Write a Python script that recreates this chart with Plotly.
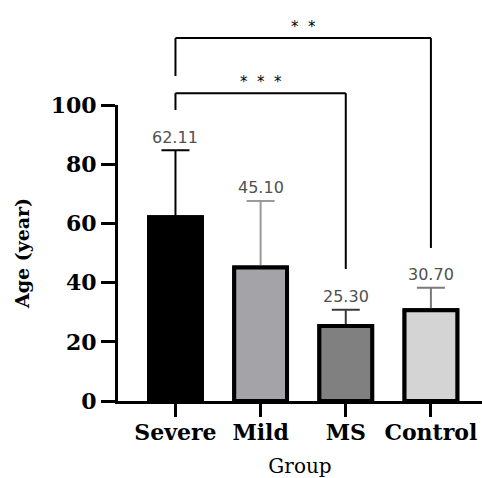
import plotly.graph_objects as go

groups = ["Severe", "Mild", "MS", "Control"]
means = [62.11, 45.10, 25.30, 30.70]
errors = [22.6, 22.5, 5.5, 7.6]
bar_colors = ["#000000", "#a3a3a8", "#808080", "#d4d4d4"]
err_colors = ["#000000", "#9a9a9a", "#3a3a3a", "#7a7a7a"]
y_ticks = [0, 20, 40, 60, 80, 100]

# significance brackets: (from group, to group, bar height, left drop, right drop, label)
brackets = [
    ("Severe", "MS", 104.0, 98.3, 44.6, "*  *  *"),
    ("Severe", "Control", 122.6, 109.8, 51.7, "*  *"),
]

Y_MAX = 100.0

fig = go.Figure()
# bars with upper error bars
for g, m, e, bc, ec in zip(groups, means, errors, bar_colors, err_colors):
    fig.add_trace(go.Bar(
        x=[g], y=[m], width=0.62,
        marker=dict(color=bc, line=dict(color="#000000", width=4)),
        error_y=dict(type="data", array=[e], arrayminus=[0], symmetric=False,
                     color=ec, thickness=2, width=14),
        showlegend=False, hoverinfo="skip",
    ))
# same bars again on top, hiding the lower error caps
for g, m, bc in zip(groups, means, bar_colors):
    fig.add_trace(go.Bar(
        x=[g], y=[m], width=0.62,
        marker=dict(color=bc, line=dict(color="#000000", width=4)),
        showlegend=False,
    ))

for g, m, e in zip(groups, means, errors):
    fig.add_annotation(x=g, y=m + e, text=f"{m:.2f}", showarrow=False,
                       yshift=13, font=dict(family="DejaVu Sans", size=16, color="#505050"))

for a, b, h, dl, dr, lab in brackets:
    yp = lambda v: v / Y_MAX
    line = dict(color="#000000", width=2)
    fig.add_shape(type="line", xref="x", yref="paper", x0=a, x1=b, y0=yp(h), y1=yp(h), line=line)
    fig.add_shape(type="line", xref="x", yref="paper", x0=a, x1=a, y0=yp(h), y1=yp(dl), line=line)
    fig.add_shape(type="line", xref="x", yref="paper", x0=b, x1=b, y0=yp(h), y1=yp(dr), line=line)
    ia, ib = groups.index(a), groups.index(b)
    fig.add_annotation(x=(ia + ib) / 2, xref="x", y=yp(h), yref="paper", yshift=22,
                       text=lab, showarrow=False,
                       font=dict(family="DejaVu Sans", size=15, color="#000000"))

fig.update_layout(
    width=482, height=478,
    margin=dict(l=118, r=0, t=105, b=77),
    plot_bgcolor="white", paper_bgcolor="white",
    barmode="overlay",
    xaxis=dict(
        type="category", range=[-0.675, 3.6],
        showline=True, linecolor="#000000", linewidth=3,
        ticks="outside", ticklen=13, tickwidth=3, tickcolor="#000000",
        ticklabelstandoff=-3,
        tickfont=dict(family="DejaVu Serif", size=22, color="#000000", weight="bold"),
        title=dict(text="Group", font=dict(family="DejaVu Serif", size=20, color="#000000"), standoff=16),
        showgrid=False, zeroline=False,
    ),
    yaxis=dict(
        range=[0, Y_MAX], tickvals=y_ticks,
        showline=True, linecolor="#000000", linewidth=3,
        ticks="outside", ticklen=14, tickwidth=3, tickcolor="#000000",
        tickfont=dict(family="DejaVu Serif", size=22, color="#000000", weight="bold"),
        title=dict(text="Age (year)", font=dict(family="DejaVu Serif", size=19, color="#000000", weight="bold"), standoff=17),
        showgrid=False, zeroline=False,
    ),
)

fig.write_html("out.html")
